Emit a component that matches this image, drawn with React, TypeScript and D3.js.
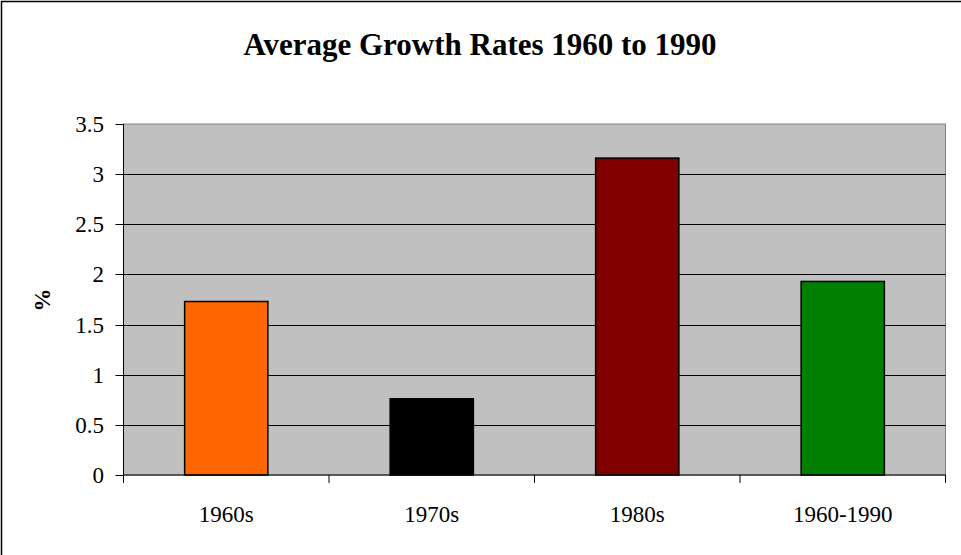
import React from "react";
import * as d3 from "d3";

// Average growth rates by period
const categories: string[] = ["1960s", "1970s", "1980s", "1960-1990"];
const growthRates: number[] = [1.73, 0.76, 3.16, 1.93];
const barColors: string[] = ["#ff6600", "#000000", "#800000", "#008000"];
const yTicks: number[] = [0, 0.5, 1, 1.5, 2, 2.5, 3, 3.5];
const yTickLabels: string[] = ["0", "0.5", "1", "1.5", "2", "2.5", "3", "3.5"];
const titleText = "Average Growth Rates 1960 to 1990";
const yAxisTitle = "%";

const W = 961;
const H = 555;
const plot = { left: 123.5, right: 945.5, top: 124, bottom: 475 };
const FONT = '"Liberation Serif", "Times New Roman", Times, serif';
const txt: React.CSSProperties = { fontFamily: FONT };

export default function App() {
  const x = d3
    .scaleBand<string>()
    .domain(categories)
    .range([plot.left, plot.right])
    .paddingInner(0.595)
    .paddingOuter(0.2975);
  const y = d3.scaleLinear().domain([0, 3.5]).range([plot.bottom, plot.top]);
  const step = x.step();
  const boundaries = d3.range(categories.length + 1).map((i) => plot.left + i * step);

  return (
    <svg
      width={W}
      height={H}
      style={{ position: "absolute", left: 0, top: 0, background: "#fff", fontFamily: FONT }}
    >
      <rect x={1.5} y={1.5} width={W + 10} height={H + 10} fill="#fff" stroke="#000" strokeWidth={1.5} />

      <text x={480} y={55} textAnchor="middle" fontSize={31} fontWeight="bold" fill="#000" style={txt}>
        {titleText}
      </text>

      {/* plot area */}
      <rect
        x={plot.left}
        y={plot.top}
        width={plot.right - plot.left}
        height={plot.bottom - plot.top}
        fill="#c0c0c0"
        stroke="#808080"
        strokeWidth={1}
      />

      {/* horizontal gridlines */}
      {yTicks
        .filter((t) => t > 0 && t < 3.5)
        .map((t) => (
          <line
            key={`g${t}`}
            x1={plot.left}
            x2={plot.right}
            y1={Math.round(y(t)) + 0.5}
            y2={Math.round(y(t)) + 0.5}
            stroke="#000"
            strokeWidth={1}
          />
        ))}

      {/* bars */}
      {categories.map((c, i) => (
        <rect
          key={c}
          x={x(c)!}
          y={y(growthRates[i])}
          width={x.bandwidth()}
          height={y(0) - y(growthRates[i])}
          fill={barColors[i]}
          stroke="#000"
          strokeWidth={1.5}
        />
      ))}

      {/* y axis */}
      <line x1={plot.left} x2={plot.left} y1={plot.top} y2={plot.bottom} stroke="#000" strokeWidth={1} />
      {yTicks.map((t, i) => (
        <g key={`y${t}`}>
          <line
            x1={plot.left - 8}
            x2={plot.left}
            y1={Math.round(y(t)) + 0.5}
            y2={Math.round(y(t)) + 0.5}
            stroke="#000"
          />
          <text x={104} y={y(t) + 8} textAnchor="end" fontSize={23} fill="#000" style={txt}>
            {yTickLabels[i]}
          </text>
        </g>
      ))}

      {/* x axis */}
      <line x1={plot.left} x2={plot.right} y1={plot.bottom} y2={plot.bottom} stroke="#000" strokeWidth={1} />
      {boundaries.map((bx, i) => (
        <line key={`xt${i}`} x1={bx} x2={bx} y1={plot.bottom} y2={plot.bottom + 8} stroke="#000" />
      ))}
      {categories.map((c) => (
        <text
          key={`xl${c}`}
          x={x(c)! + x.bandwidth() / 2}
          y={522}
          textAnchor="middle"
          fontSize={23}
          fill="#000"
          style={txt}
        >
          {c}
        </text>
      ))}

      <text
        transform={`translate(50, 300) rotate(-90)`}
        textAnchor="middle"
        fontSize={23}
        fontWeight="bold"
        fill="#000"
        style={txt}
      >
        {yAxisTitle}
      </text>
    </svg>
  );
}
